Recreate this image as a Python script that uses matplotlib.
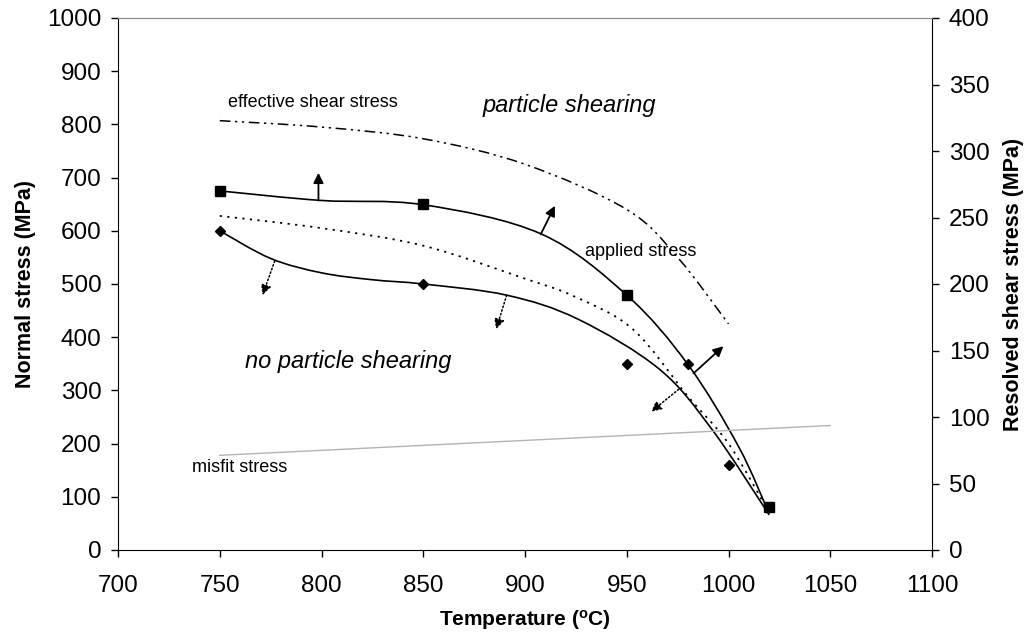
import numpy as np
import matplotlib
matplotlib.use('Agg')
import matplotlib.pyplot as plt
from matplotlib.path import Path
from matplotlib.patches import PathPatch

plt.rcParams['font.family'] = ['Liberation Sans', 'DejaVu Sans']
plt.rcParams['mathtext.fontset'] = 'custom'
plt.rcParams['mathtext.rm'] = 'Liberation Sans'
plt.rcParams['mathtext.bf'] = 'Liberation Sans:bold'

# measured points (square = applied stress, diamond = second series)
square_T = [750, 850, 950, 1020]
square_s = [675, 650, 480, 80]
diamond_T = [750, 850, 950, 980, 1000]
diamond_s = [600, 500, 350, 350, 160]

# curves
applied_T = [750, 800, 850, 908, 950, 980, 1005, 1020]
applied_s = [675, 657, 649, 594, 479, 349, 194, 68]
lower_T = [750, 775, 800, 825, 850, 891, 926, 966, 992, 1020]
lower_s = [600, 548, 521, 508, 500, 479, 434, 340, 226, 66]
dotted_T = [750, 800, 850, 900, 924, 953, 980, 1000, 1020]
dotted_s = [628, 605, 572, 510, 477, 415, 289, 200, 70]
effective_T = [750, 800, 850, 900, 950, 975, 1000]
effective_s = [807, 795, 773, 725, 640, 550, 425]
misfit_T = [750, 1050]
misfit_s = [178, 234]

# arrows: (base T, base s, tip T, tip s)
solid_arrows = [(798.5, 657, 798.5, 709), (907.8, 594, 914.7, 647), (982.8, 332, 997.5, 383)]
dotted_arrows = [(777, 543, 771, 479), (891, 479, 885.8, 415), (975.5, 302, 962, 260)]


def smooth(ax, xs, ys, **kw):
    # Catmull-Rom spline drawn as cubic bezier segments
    p = np.column_stack([xs, ys]).astype(float)
    verts = [p[0]]
    codes = [Path.MOVETO]
    n = len(p)
    for i in range(n - 1):
        p0 = p[i - 1] if i > 0 else p[i]
        p1 = p[i]
        p2 = p[i + 1]
        p3 = p[i + 2] if i + 2 < n else p[i + 1]
        verts += [p1 + (p2 - p0) / 6, p2 - (p3 - p1) / 6, p2]
        codes += [Path.CURVE4] * 3
    ax.add_patch(PathPatch(Path(verts, codes), fill=False, **kw))


fig = plt.figure(figsize=(10.3, 6.42), dpi=100)
ax = fig.add_axes([118 / 1030, 1 - 550 / 642, (932 - 118) / 1030, (550 - 18) / 642])

smooth(ax, applied_T, applied_s, color='black', lw=1.2)
smooth(ax, lower_T, lower_s, color='black', lw=1.2)
smooth(ax, dotted_T, dotted_s, color='black', lw=1.3, linestyle=(0, (1.2, 3)))
smooth(ax, effective_T, effective_s, color='black', lw=1.1,
       linestyle=(0, (7, 3, 1.5, 3, 1.5, 3)))
ax.plot(misfit_T, misfit_s, color='0.7', lw=1.0)

ax.plot(square_T, square_s, 's', color='black', markersize=6.5, zorder=5)
ax.plot(diamond_T, diamond_s, 'D', color='black', markersize=5.5, zorder=5)

for x0, y0, x1, y1 in solid_arrows:
    ax.annotate('', xy=(x1, y1), xytext=(x0, y0),
                arrowprops=dict(arrowstyle='-|>', color='black', lw=1.3,
                                mutation_scale=15, shrinkA=0, shrinkB=0))
for x0, y0, x1, y1 in dotted_arrows:
    ax.annotate('', xy=(x1, y1), xytext=(x0, y0),
                arrowprops=dict(arrowstyle='-|>', color='black', lw=1.1,
                                linestyle=(0, (1, 1.5)), mutation_scale=15,
                                shrinkA=0, shrinkB=0))

ax.text(754, 841, 'effective shear stress', fontsize=13, ha='left', va='center')
ax.text(922, 836, 'particle shearing', fontsize=17, style='italic', ha='center', va='center')
ax.text(957, 562, 'applied stress', fontsize=13, ha='center', va='center')
ax.text(813, 355, 'no particle shearing', fontsize=17, style='italic', ha='center', va='center')
ax.text(760, 155, 'misfit stress', fontsize=13, ha='center', va='center')

ax.set_xlim(700, 1100)
ax.set_ylim(0, 1000)
ax.set_xticks(np.arange(700, 1101, 50))
ax.set_yticks(np.arange(0, 1001, 100))
ax.tick_params(axis='both', direction='out', length=5, width=1, labelsize=17.5)
ax.tick_params(axis='x', pad=13)
ax.tick_params(axis='y', pad=7)
ax.spines['top'].set_color('0.55')
ax.spines['top'].set_linewidth(0.8)
ax.spines['right'].set_visible(False)
ax.set_xlabel(r'Temperature ($\mathbf{^{o}}$C)', fontsize=15, fontweight='bold', labelpad=8)
ax.set_ylabel('Normal stress (MPa)', fontsize=15.5, fontweight='bold', labelpad=8)

ax2 = ax.twinx()
ax2.set_ylim(0, 400)
ax2.set_yticks(np.arange(0, 401, 50))
ax2.tick_params(direction='out', length=5, width=1, labelsize=17.5, pad=7)
ax2.spines['top'].set_color('0.55')
ax2.spines['top'].set_linewidth(0.8)
for s in ['left', 'bottom']:
    ax2.spines[s].set_visible(False)
ax2.set_ylabel('Resolved shear stress (MPa)', fontsize=15.5, fontweight='bold', labelpad=10)

fig.savefig('out.png', dpi=100)
